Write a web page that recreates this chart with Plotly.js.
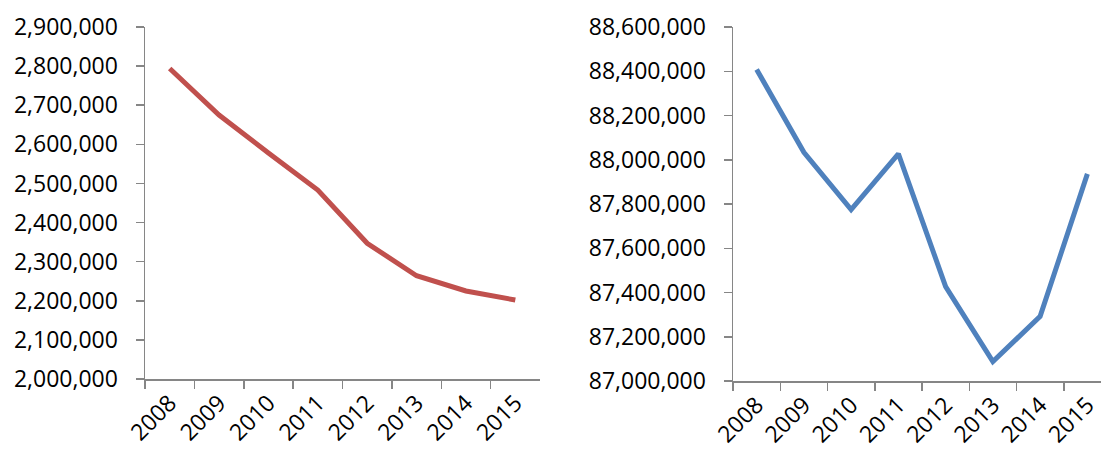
<!DOCTYPE html>
<html>
<head>
<meta charset="utf-8">
<script src="https://cdn.plot.ly/plotly-3.0.1.min.js"></script>
<style>
  html, body { margin: 0; padding: 0; overflow: hidden; background: #fff; }
  #chart { width: 1120px; height: 450px; }
</style>
</head>
<body>
<div id="chart"></div>
<script>
// Years shared by both panels
const years = ['2008', '2009', '2010', '2011', '2012', '2013', '2014', '2015'];

// Left panel series
const leftValues = [2794000, 2675000, 2578000, 2483000, 2347000, 2264000, 2225000, 2202000];

// Right panel series
const rightValues = [88408000, 88034000, 87775000, 88027000, 87427000, 87088000, 87292000, 87936000];

const W = 1120, H = 450;
const axisGrey = '#868686';
const font = { family: '"Open Sans", Lato, sans-serif', size: 23, color: '#000000' };

function xAxis(x0, x1) {
  return {
    type: 'category',
    domain: [x0 / W, x1 / W],
    range: [-0.5, years.length - 0.5],
    showline: true, linecolor: axisGrey, linewidth: 1.5,
    ticks: 'outside', ticklen: 8, tickcolor: axisGrey, tickwidth: 1.5,
    tickson: 'boundaries',
    tickangle: -45,
    showgrid: false, zeroline: false,
    tickfont: font,
    fixedrange: true
  };
}

function yAxis(yTop, yBottom, lo, hi, step, anchor) {
  return {
    domain: [(H - yBottom) / H, (H - yTop) / H],
    range: [lo, hi],
    dtick: step, tick0: lo,
    tickformat: ',d',
    showline: true, linecolor: axisGrey, linewidth: 1.5,
    ticks: 'outside', ticklen: 8, tickcolor: axisGrey, tickwidth: 1.5,
    ticklabelstandoff: 13,
    showgrid: false, zeroline: false,
    tickfont: font,
    anchor: anchor,
    fixedrange: true
  };
}

const traces = [
  {
    x: years, y: leftValues, xaxis: 'x', yaxis: 'y',
    type: 'scatter', mode: 'lines',
    line: { color: '#C0504D', width: 5 },
    hoverinfo: 'skip'
  },
  {
    x: years, y: rightValues, xaxis: 'x2', yaxis: 'y2',
    type: 'scatter', mode: 'lines',
    line: { color: '#4F81BD', width: 5 },
    hoverinfo: 'skip'
  }
];

const layout = {
  width: W, height: H,
  margin: { l: 0, r: 0, t: 0, b: 0 },
  paper_bgcolor: '#ffffff', plot_bgcolor: '#ffffff',
  showlegend: false,
  font: font,
  xaxis: Object.assign(xAxis(145, 540), { anchor: 'y' }),
  yaxis: yAxis(27, 379, 2000000, 2900000, 100000, 'x'),
  xaxis2: Object.assign(xAxis(733, 1111), { anchor: 'y2' }),
  yaxis2: yAxis(27, 381, 87000000, 88600000, 200000, 'x2')
};

Plotly.newPlot('chart', traces, layout, { staticPlot: true, displayModeBar: false });
</script>
</body>
</html>
